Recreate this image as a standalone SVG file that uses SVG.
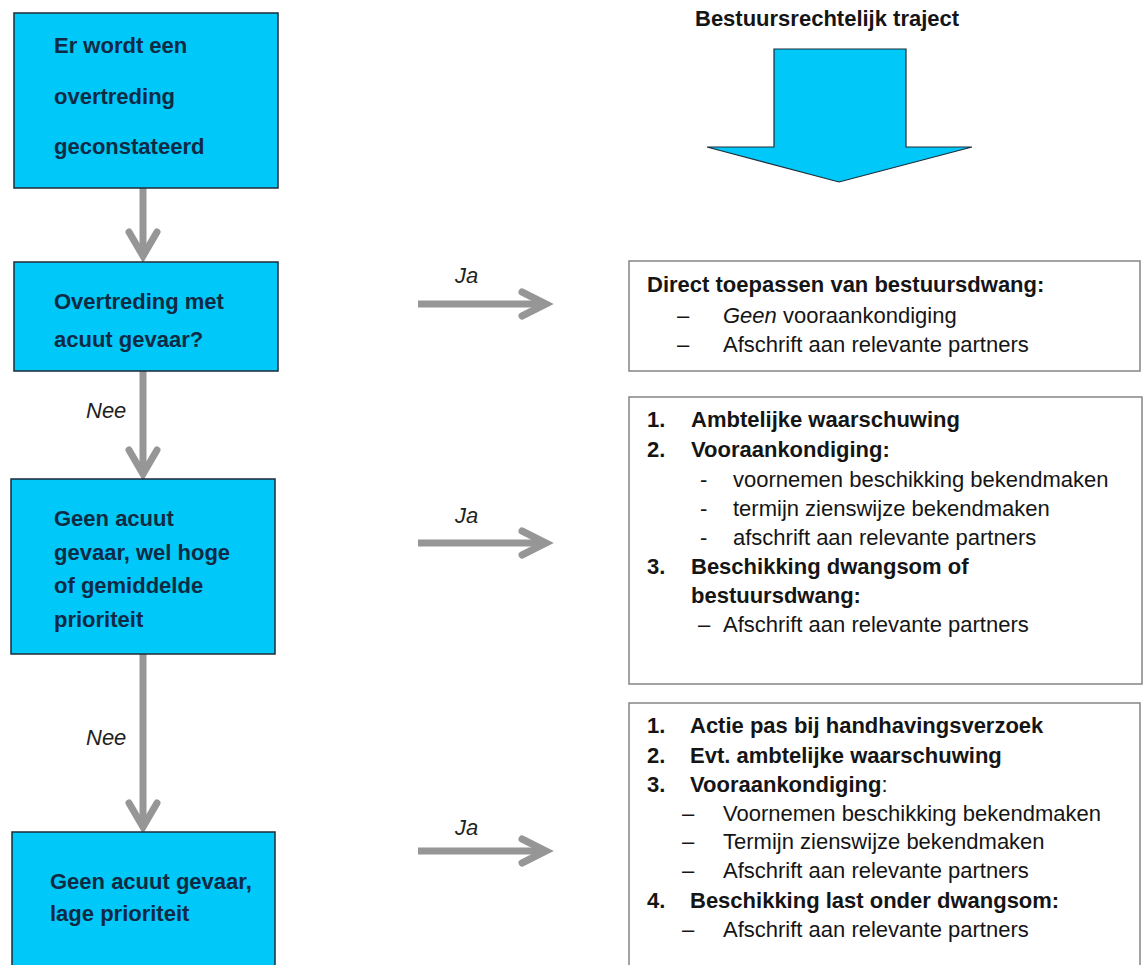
<svg xmlns="http://www.w3.org/2000/svg" width="1145" height="965" viewBox="0 0 1145 965">
<style>
text{font-family:"Liberation Sans",Arial,sans-serif;font-size:22px}
.lb{fill:#00c8f8;stroke:#1c2b38;stroke-width:1.5}
.lt{fill:#0e2a44;font-weight:bold}
.rb{fill:#fff;stroke:#858585;stroke-width:1.5}
.rt{fill:#151515}
.b{font-weight:bold}
.i{font-style:italic}
.lab{fill:#222;font-style:italic}
.con{stroke:#969696;stroke-width:7;fill:none;stroke-linecap:butt}
.head{stroke:#969696;stroke-width:7;fill:none;stroke-linecap:round;stroke-linejoin:miter}
</style>
<rect width="1145" height="965" fill="#fff"/>
<g id="connectors">
<line class="con" x1="143" y1="188" x2="143" y2="255"/>
<polyline class="head" points="129,232 143,256 157,232"/>
<line class="con" x1="143" y1="371" x2="143" y2="474"/>
<polyline class="head" points="129,450 143,474 157,450"/>
<line class="con" x1="143" y1="654" x2="143" y2="827"/>
<polyline class="head" points="129,803 143,827 157,803"/>
<line class="con" x1="418" y1="304" x2="545" y2="304"/>
<polyline class="head" points="522,292 546,304 522,316"/>
<line class="con" x1="418" y1="543" x2="545" y2="543"/>
<polyline class="head" points="522,531 546,543 522,555"/>
<line class="con" x1="418" y1="851" x2="545" y2="851"/>
<polyline class="head" points="522,839 546,851 522,863"/>
<text class="lab" x="86" y="418">Nee</text>
<text class="lab" x="86" y="745">Nee</text>
<text class="lab" x="455" y="283">Ja</text>
<text class="lab" x="455" y="523">Ja</text>
<text class="lab" x="455" y="835">Ja</text>
</g>
<g id="n1">
<rect class="lb" x="14" y="13" width="264" height="175"/>
<text class="lt" x="54" y="53">Er wordt een</text>
<text class="lt" x="54" y="104">overtreding</text>
<text class="lt" x="54" y="154">geconstateerd</text>
</g>
<g id="n2">
<rect class="lb" x="14" y="262" width="264" height="109"/>
<text class="lt" x="54" y="309">Overtreding met</text>
<text class="lt" x="54" y="347">acuut gevaar?</text>
</g>
<g id="n3">
<rect class="lb" x="11" y="479" width="264" height="175"/>
<text class="lt" x="54" y="526">Geen acuut</text>
<text class="lt" x="54" y="560">gevaar, wel hoge</text>
<text class="lt" x="54" y="593">of gemiddelde</text>
<text class="lt" x="54" y="627">prioriteit</text>
</g>
<g id="n4">
<rect class="lb" x="12" y="832" width="263" height="150"/>
<text class="lt" x="50" y="889">Geen acuut gevaar,</text>
<text class="lt" x="50" y="921">lage prioriteit</text>
</g>
<g id="title">
<text class="rt b" x="695" y="26">Bestuursrechtelijk traject</text>
<path d="M774,49 H906 V147 H972 L839,182 L707,147 H774 Z" fill="#00c8f8" stroke="#1c2b38" stroke-width="1.2"/>
</g>
<g id="r1">
<rect class="rb" x="629" y="261" width="511" height="110"/>
<text class="rt b" x="647" y="292">Direct toepassen van bestuursdwang:</text>
<text class="rt" x="677" y="323">–</text>
<text class="rt" x="723" y="323"><tspan class="i">Geen</tspan> vooraankondiging</text>
<text class="rt" x="677" y="352">–</text>
<text class="rt" x="723" y="352">Afschrift aan relevante partners</text>
</g>
<g id="r2">
<rect class="rb" x="629" y="397" width="513" height="287"/>
<text class="rt b" x="647" y="427">1.</text>
<text class="rt b" x="691" y="427">Ambtelijke waarschuwing</text>
<text class="rt b" x="647" y="457">2.</text>
<text class="rt b" x="691" y="457">Vooraankondiging:</text>
<text class="rt" x="700" y="487">-</text>
<text class="rt" x="733" y="487">voornemen beschikking bekendmaken</text>
<text class="rt" x="700" y="516">-</text>
<text class="rt" x="733" y="516">termijn zienswijze bekendmaken</text>
<text class="rt" x="700" y="545">-</text>
<text class="rt" x="733" y="545">afschrift aan relevante partners</text>
<text class="rt b" x="647" y="574">3.</text>
<text class="rt b" x="691" y="574">Beschikking dwangsom of</text>
<text class="rt b" x="691" y="603">bestuursdwang:</text>
<text class="rt" x="698" y="632">–</text>
<text class="rt" x="723" y="632">Afschrift aan relevante partners</text>
</g>
<g id="r3">
<rect class="rb" x="629" y="703" width="511" height="280"/>
<text class="rt b" x="647" y="733">1.</text>
<text class="rt b" x="690" y="733">Actie pas bij handhavingsverzoek</text>
<text class="rt b" x="647" y="763">2.</text>
<text class="rt b" x="690" y="763">Evt. ambtelijke waarschuwing</text>
<text class="rt b" x="647" y="792">3.</text>
<text class="rt" x="690" y="792"><tspan class="b">Vooraankondiging</tspan>:</text>
<text class="rt" x="682" y="821">–</text>
<text class="rt" x="723" y="821">Voornemen beschikking bekendmaken</text>
<text class="rt" x="682" y="849">–</text>
<text class="rt" x="723" y="849">Termijn zienswijze bekendmaken</text>
<text class="rt" x="682" y="878">–</text>
<text class="rt" x="723" y="878">Afschrift aan relevante partners</text>
<text class="rt b" x="647" y="908">4.</text>
<text class="rt b" x="690" y="908">Beschikking last onder dwangsom:</text>
<text class="rt" x="682" y="937">–</text>
<text class="rt" x="723" y="937">Afschrift aan relevante partners</text>
</g>
</svg>
